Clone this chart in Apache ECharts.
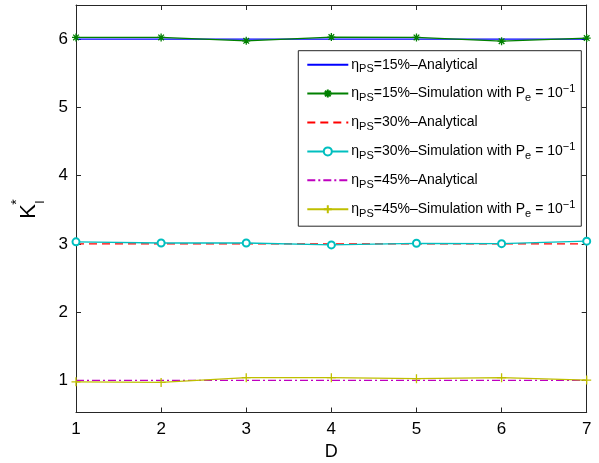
<!DOCTYPE html>
<html>
<head>
<meta charset="utf-8">
<script src="https://cdn.jsdelivr.net/npm/echarts@6/dist/echarts.min.js"></script>
<style>
html,body{margin:0;padding:0;background:#fff;}
#chart{width:599px;height:463px;}
</style>
</head>
<body>
<div id="chart"></div>
<script>
// ---- data ----
var dValues = [1, 2, 3, 4, 5, 6, 7];
var yTickValues = [1, 2, 3, 4, 5, 6];
var analytical15 = [6, 6, 6, 6, 6, 6, 6];
var simulation15 = [6.025, 6.025, 5.975, 6.03, 6.025, 5.97, 6.015];
var analytical30 = [3, 3, 3, 3, 3, 3, 3];
var simulation30 = [3.03, 3.013, 3.013, 2.985, 3.009, 3.004, 3.04];
var analytical45 = [1, 1, 1, 1, 1, 1, 1];
var simulation45 = [0.98, 0.97, 1.04, 1.04, 1.025, 1.04, 1.005];
var seriesNames = [
  'ηPS=15%–Analytical',
  'ηPS=15%–Simulation with Pe = 10^-1',
  'ηPS=30%–Analytical',
  'ηPS=30%–Simulation with Pe = 10^-1',
  'ηPS=45%–Analytical',
  'ηPS=45%–Simulation with Pe = 10^-1'
];
var legendRich = [
  'η{sub|PS}=15%–Analytical',
  'η{sub|PS}=15%–Simulation with P{sub|e} = 10{sup|−1}',
  'η{sub|PS}=30%–Analytical',
  'η{sub|PS}=30%–Simulation with P{sub|e} = 10{sup|−1}',
  'η{sub|PS}=45%–Analytical',
  'η{sub|PS}=45%–Simulation with P{sub|e} = 10{sup|−1}'
];

function pairs(vals) {
  return dValues.map(function (d, i) { return [d, vals[i]]; });
}

var FONT = '"Liberation Sans", Arial, Helvetica, sans-serif';
var asterisk = 'path://M0,-1L0,1M-1,0L1,0M-0.7,-0.7L0.7,0.7M-0.7,0.7L0.7,-0.7';
var plusSym = 'path://M0,-1L0,1M-1,0L1,0';

var chart = echarts.init(document.getElementById('chart'), null, {renderer: 'canvas'});

var grid = {left: 76, right: 12.3, top: 5, bottom: 50.5, outerBoundsMode: 'none', containLabel: false};
var axisLineStyle = {color: '#262626', width: 1};

var legendData = seriesNames.map(function (n, i) {
  return (i % 2 === 0) ? {name: n, itemStyle: {opacity: 0}} : {name: n};
});

var option = {
  backgroundColor: '#ffffff',
  animation: false,
  grid: grid,
  xAxis: [{
    type: 'value', min: 1, max: 7, interval: 1,
    name: 'D', nameLocation: 'middle', nameGap: 31,
    nameTextStyle: {fontFamily: FONT, fontSize: 18, color: '#000'},
    axisLine: {show: true, onZero: false, lineStyle: axisLineStyle},
    axisTick: {show: true, inside: true, length: 5, lineStyle: axisLineStyle},
    axisLabel: {fontFamily: FONT, fontSize: 17, color: '#000', margin: 8},
    splitLine: {show: false}
  }, {
    type: 'value', min: 1, max: 7, interval: 1, position: 'top',
    axisLine: {show: true, onZero: false, lineStyle: axisLineStyle},
    axisTick: {show: true, inside: true, length: 5, lineStyle: axisLineStyle},
    axisLabel: {show: false},
    splitLine: {show: false}
  }],
  yAxis: [{
    type: 'value', min: 0.53, max: 6.5,
    axisLine: {show: true, onZero: false, lineStyle: axisLineStyle},
    axisTick: {show: true, inside: true, length: 5, lineStyle: axisLineStyle, customValues: yTickValues},
    axisLabel: {fontFamily: FONT, fontSize: 17, color: '#000', margin: 8, customValues: yTickValues},
    splitLine: {show: false}
  }, {
    type: 'value', min: 0.53, max: 6.5, position: 'right',
    axisLine: {show: true, onZero: false, lineStyle: axisLineStyle},
    axisTick: {show: true, inside: true, length: 5, lineStyle: axisLineStyle, customValues: yTickValues},
    axisLabel: {show: false},
    splitLine: {show: false}
  }],
  legend: {
    orient: 'vertical',
    left: 298.3, top: 50.7,
    padding: [4, 6, 7, 8],
    itemGap: 8.9,
    itemWidth: 41, itemHeight: 10,
    backgroundColor: '#fff',
    borderColor: '#262626', borderWidth: 1,
    data: legendData,
    formatter: function (name) { return legendRich[seriesNames.indexOf(name)]; },
    textStyle: {
      fontFamily: FONT, fontSize: 14, color: '#000', lineHeight: 20, padding: [0, 0, 0, -2],
      rich: {
        sub: {fontFamily: FONT, fontSize: 11, lineHeight: 11, verticalAlign: 'bottom', color: '#000'},
        sup: {fontFamily: FONT, fontSize: 11, lineHeight: 11, verticalAlign: 'top', color: '#000'}
      }
    }
  },
  series: [{
    name: seriesNames[0], type: 'line', data: pairs(analytical15),
    color: '#0000ff', symbol: 'none', lineStyle: {width: 1.3, color: '#0000ff'}
  }, {
    name: seriesNames[1], type: 'line', data: pairs(simulation15),
    color: '#008000', symbol: asterisk, symbolSize: 8,
    itemStyle: {color: '#008000', borderColor: '#008000', borderWidth: 1.3},
    lineStyle: {width: 1.3, color: '#008000'}
  }, {
    name: seriesNames[2], type: 'line', data: pairs(analytical30),
    color: '#ff0000', symbol: 'none', lineStyle: {width: 1.3, color: '#ff0000', type: [8, 5]}
  }, {
    name: seriesNames[3], type: 'line', data: pairs(simulation30),
    color: '#00bfbf', symbol: 'emptyCircle', symbolSize: 7,
    itemStyle: {color: '#00bfbf', borderColor: '#00bfbf', borderWidth: 1.3},
    lineStyle: {width: 1.3, color: '#00bfbf'}
  }, {
    name: seriesNames[4], type: 'line', data: pairs(analytical45),
    color: '#bf00bf', symbol: 'none', lineStyle: {width: 1.3, color: '#bf00bf', type: [8, 3, 2, 3]}
  }, {
    name: seriesNames[5], type: 'line', data: pairs(simulation45),
    color: '#bfbf00', symbol: plusSym, symbolSize: 9,
    itemStyle: {color: '#bfbf00', borderColor: '#bfbf00', borderWidth: 1.3},
    lineStyle: {width: 1.3, color: '#bfbf00'}
  }],
  graphic: [{
    type: 'text', x: 29, y: 211.5, rotation: Math.PI / 2,
    style: {text: 'K', font: '22px ' + FONT, fill: '#000', align: 'center', verticalAlign: 'middle', textAlign: 'center', textVerticalAlign: 'middle'}
  }, {
    type: 'text', x: 17, y: 202, rotation: Math.PI / 2,
    style: {text: '*', font: '14px ' + FONT, fill: '#000', align: 'center', verticalAlign: 'middle', textAlign: 'center', textVerticalAlign: 'middle'}
  }, {
    type: 'text', x: 41, y: 202, rotation: Math.PI / 2,
    style: {text: 'I', font: '12px ' + FONT, fill: '#000', align: 'center', verticalAlign: 'middle', textAlign: 'center', textVerticalAlign: 'middle'}
  }]
};
chart.setOption(option);
</script>
</body>
</html>
